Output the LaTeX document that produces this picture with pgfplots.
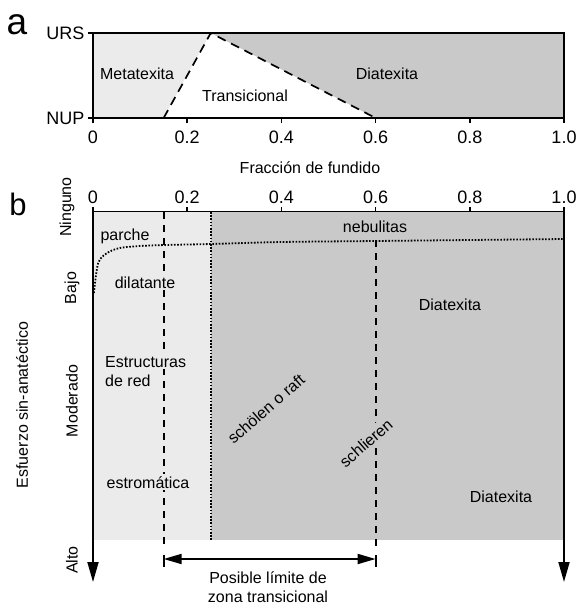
\documentclass[border=0pt]{standalone}
\usepackage{fontspec}
\setmainfont{Liberation Sans}
\usepackage{pgfplots}
\pgfplotsset{compat=1.18}
\usetikzlibrary{arrows.meta}

\definecolor{lightg}{RGB}{235,235,235}
\definecolor{darkg}{RGB}{201,201,201}
\newcommand{\lab}{\fontsize{16}{18}\selectfont}
\newcommand{\tck}{\fontsize{18}{20}\selectfont}
% pixel x -> melt fraction
\newcommand{\fx}[1]{{(#1-93)/471}}

\begin{document}
\begin{tikzpicture}[x=1pt,y=1pt]
\useasboundingbox (0,0) rectangle (576,-605);

% ---------------- panel a ----------------
\begin{axis}[
  at={(93pt,-118pt)}, anchor=south west,
  scale only axis, width=471pt, height=85pt,
  xmin=0, xmax=1, ymin=-118, ymax=-33,
  axis on top,
  axis line style={line width=1.8pt},
  tick pos=left, tick align=outside,
  major tick length=5pt,
  every tick/.style={line width=1.5pt, black},
  xtick={0,0.2,0.4,0.6,0.8,1},
  xticklabels={0,0.2,0.4,0.6,0.8,1.0},
  ytick={-118,-33}, yticklabels={NUP,URS},
  tick label style={font=\tck},
  xticklabel style={yshift=-4pt},
  /pgf/number format/assume math mode=true,
  clip=false,
]
\addplot[draw=none, fill=lightg] coordinates {(0,-118) (0.15,-118) (0.25,-33) (0,-33)};
\addplot[draw=none, fill=white] coordinates {(0.15,-118) (0.25,-33) (0.6,-118)};
\addplot[draw=none, fill=darkg] coordinates {(0.25,-33) (1,-33) (1,-118) (0.6,-118)};
\addplot[black, line width=1.7pt, dash pattern=on 9pt off 6pt] coordinates {(0.15,-118) (0.25,-33) (0.6,-118)};

\node[font=\lab, anchor=base] at (axis cs:\fx{137},-80) {Metatexita};
\node[font=\lab, anchor=base] at (axis cs:\fx{245},-101) {Transicional};
\node[font=\lab, anchor=base] at (axis cs:\fx{387},-80) {Diatexita};
\node[font=\lab, anchor=base] at (axis cs:\fx{310},-173) {Fracción de fundido};
\node[font=\fontsize{37}{40}\selectfont, anchor=base] at (axis cs:\fx{17},-35) {a};
\end{axis}

% ---------------- panel b ----------------
\begin{axis}[
  at={(93pt,-582pt)}, anchor=south west,
  scale only axis, width=471pt, height=370pt,
  xmin=0, xmax=1, ymin=-582, ymax=-212,
  axis x line*=top, axis y line=none,
  axis line style={line width=1.8pt},
  tick align=outside,
  major tick length=5pt,
  every tick/.style={line width=1.5pt, black},
  xtick={0,0.2,0.4,0.6,0.8,1},
  xticklabels={0,0.2,0.4,0.6,0.8,1.0},
  tick label style={font=\tck},
  /pgf/number format/assume math mode=true,
  clip=false,
]
\addplot[draw=none, fill=lightg] coordinates {(0,-212) (0.25,-212) (0.25,-540) (0,-540)};
\addplot[draw=none, fill=darkg] coordinates {(0.25,-212) (1,-212) (1,-540) (0.25,-540)};

% boundary between structures (dotted)
\addplot[black, line width=1.8pt, dash pattern=on 1.6pt off 1.6pt, smooth] coordinates {
  (0.002,-293) (0.011,-263) (0.03,-253) (0.057,-248) (0.1,-246)
  (0.153,-245) (0.25,-244) (0.4,-242) (0.6,-241) (0.8,-240) (1,-239)};
\addplot[black, line width=1.8pt, dash pattern=on 1.6pt off 1.6pt] coordinates {(0.25,-212) (0.25,-540)};

% limits of transitional zone (dashed)
\addplot[black, line width=1.8pt, dash pattern=on 7pt off 6pt] coordinates {(0.15,-212) (0.15,-550)};
\addplot[black, line width=1.8pt, dash pattern=on 7pt off 6pt] coordinates {(0.6,-240) (0.6,-550)};

% stress axes
\addplot[black, line width=1.8pt, -{Triangle[length=20pt,width=11pt]}] coordinates {(0,-212) (0,-582)};
\addplot[black, line width=1.8pt, -{Triangle[length=20pt,width=11pt]}] coordinates {(1,-212) (1,-582)};

% double arrow
\addplot[black, line width=1.8pt, {Triangle[length=18pt,width=10pt]}-{Triangle[length=18pt,width=10pt]}] coordinates {(0.15,-559) (0.6,-559)};
\addplot[black, line width=1.8pt] coordinates {(0.15,-555) (0.15,-567)};
\addplot[black, line width=1.8pt] coordinates {(0.6,-555) (0.6,-567)};

\node[font=\lab, anchor=base] at (axis cs:\fx{125},-240) {parche};
\node[font=\lab, anchor=base, fill=lightg, inner sep=2pt] at (axis cs:\fx{145},-288) {dilatante};
\node[font=\lab, anchor=base] at (axis cs:\fx{375},-232) {nebulitas};
\node[font=\lab, anchor=base west, fill=lightg, inner sep=2pt] at (axis cs:\fx{103},-367) {Estructuras};
\node[font=\lab, anchor=base west, inner sep=0pt] at (axis cs:\fx{105},-386) {de red};
\node[font=\lab, anchor=base, fill=lightg, inner sep=2pt] at (axis cs:\fx{148},-488) {estromática};
\node[font=\lab, anchor=base] at (axis cs:\fx{450},-310) {Diatexita};
\node[font=\lab, anchor=base] at (axis cs:\fx{501},-502) {Diatexita};
\node[font=\lab, rotate=41] at (axis cs:\fx{266},-409) {schölen o raft};
\node[font=\lab, rotate=41, fill=darkg, inner sep=3pt] at (axis cs:\fx{366},-443) {schlieren};
\node[font=\lab, anchor=base] at (axis cs:\fx{268},-583) {Posible límite de};
\node[font=\lab, anchor=base] at (axis cs:\fx{268},-602) {zona transicional};

\node[font=\lab, rotate=90] at (axis cs:\fx{67},-207) {Ninguno};
\node[font=\lab, rotate=90] at (axis cs:\fx{72},-288) {Bajo};
\node[font=\lab, rotate=90] at (axis cs:\fx{72},-401) {Moderado};
\node[font=\lab, rotate=90] at (axis cs:\fx{72},-560) {Alto};
\node[font=\lab, rotate=90] at (axis cs:\fx{22},-405) {Esfuerzo sin-anatéctico};
\node[font=\fontsize{31}{34}\selectfont, anchor=base] at (axis cs:\fx{18},-215) {b};
\end{axis}
\end{tikzpicture}
\end{document}
